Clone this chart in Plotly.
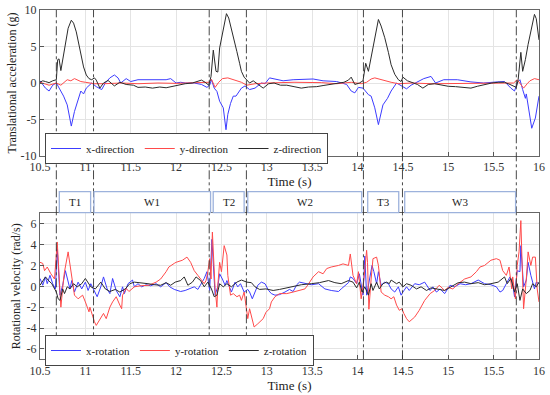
import plotly.graph_objects as go

# ---------------- data ----------------
acc_x_t = [10.50,10.53,10.56,10.60,10.64,10.68,10.72,10.76,10.80,10.83,10.845,10.88,10.93,10.95,10.98,11.01,11.07,11.12,11.18,11.22,11.27,11.32,11.36,11.39,11.45,11.50,11.58,11.66,11.74,11.82,11.89,11.94,12.00,12.05,12.10,12.20,12.28,12.34,12.37,12.39,12.42,12.45,12.48,12.52,12.55,12.57,12.60,12.63,12.66,12.72,12.76,12.81,12.87,12.94,12.98,13.03,13.09,13.18,13.29,13.40,13.51,13.62,13.77,13.88,13.93,13.97,14.01,14.06,14.12,14.15,14.19,14.23,14.26,14.28,14.33,14.37,14.43,14.48,14.54,14.59,14.66,14.73,14.81,14.86,14.95,15.10,15.25,15.39,15.54,15.62,15.69,15.73,15.76,15.79,15.82,15.85,15.86,15.90,15.92,15.96,16.00]
acc_x_v = [0.3,-0.2,-0.7,-1.1,-0.3,0.0,-0.9,-1.8,-3.0,-4.8,-5.9,-3.9,-2.05,-1.1,-1.5,-0.7,0.0,-0.5,-0.9,0.0,0.7,1.1,0.7,0.0,0.6,0.2,0.45,0.45,0.45,0.5,0.45,0.6,0.0,0.1,0.0,0.0,-0.2,-0.6,-0.3,0.45,-0.7,-1.15,-2.5,-3.4,-6.4,-4.3,-2.8,-1.8,-1.8,-0.7,-0.4,-0.9,-0.7,0.0,-0.1,0.7,0.55,0.3,0.45,0.55,0.55,0.3,0.2,-0.2,-1.1,-1.35,-0.6,-0.7,-1.6,-1.8,-3.4,-5.7,-3.9,-3.0,-2.1,-1.1,0.0,-0.4,-0.8,-0.3,0.2,0.6,0.9,0.0,0.45,0.45,0.15,0.0,0.15,0.2,-0.7,-1.1,0.0,0.45,-0.9,-2.1,-1.5,-4.3,-6.2,-4.8,-1.8]

acc_y_t = [10.50,10.55,10.60,10.68,10.73,10.80,10.84,10.88,10.95,11.00,11.10,11.20,11.40,11.58,11.80,12.00,12.20,12.36,12.39,12.43,12.47,12.51,12.57,12.64,12.72,12.78,12.87,13.00,13.30,13.60,13.77,13.93,14.04,14.10,14.15,14.19,14.26,14.37,14.45,14.60,14.81,15.00,15.30,15.60,15.72,15.76,15.79,15.83,15.87,15.90,15.95,16.00]
acc_y_v = [0.1,-0.1,-0.3,0.0,-0.3,0.45,0.3,0.6,0.2,0.1,-0.1,-0.1,0.0,-0.1,0.0,-0.05,0.05,0.1,0.5,-0.6,0.1,0.6,0.7,0.45,0.1,-0.3,-0.1,0.0,0.1,0.05,-0.1,0.1,-0.1,0.1,0.55,0.7,0.45,0.1,-0.1,0.0,-0.1,-0.1,0.0,0.0,0.0,0.45,0.0,-0.7,-0.1,0.3,0.6,0.45]

acc_z_t = [10.50,10.53,10.56,10.60,10.64,10.68,10.695,10.71,10.73,10.77,10.81,10.845,10.87,10.90,10.955,10.98,11.01,11.04,11.07,11.10,11.12,11.16,11.20,11.25,11.32,11.38,11.45,11.53,11.58,11.66,11.74,11.82,11.89,11.96,12.03,12.10,12.18,12.25,12.28,12.32,12.36,12.385,12.40,12.41,12.44,12.46,12.48,12.52,12.555,12.58,12.61,12.64,12.67,12.70,12.72,12.75,12.78,12.81,12.85,12.90,12.96,13.02,13.08,13.15,13.22,13.30,13.38,13.46,13.55,13.62,13.70,13.78,13.85,13.90,13.93,13.97,14.02,14.06,14.09,14.12,14.17,14.20,14.23,14.26,14.30,14.34,14.37,14.41,14.45,14.48,14.50,14.55,14.60,14.66,14.72,14.78,14.85,14.92,15.00,15.08,15.16,15.25,15.32,15.40,15.48,15.55,15.62,15.68,15.75,15.77,15.80,15.82,15.85,15.88,15.92,15.95,15.97,16.00]
acc_z_v = [0.1,0.3,0.2,0.05,0.3,0.45,3.2,3.3,1.7,4.8,7.5,8.6,8.2,7.0,3.9,2.2,1.1,0.6,0.45,0.7,0.4,-0.7,0.0,0.35,-0.4,0.1,-0.2,-0.3,-0.6,-0.55,-0.7,-0.55,-0.65,-0.45,-0.35,-0.1,0.0,0.35,0.4,0.1,-0.3,0.9,4.0,4.5,1.6,1.5,4.8,7.5,9.5,8.9,7.5,5.8,4.3,2.7,1.6,0.8,0.4,0.0,0.3,-0.1,-0.7,-0.1,0.0,-0.3,-0.3,-0.5,-0.7,-0.55,-0.5,-0.35,-0.2,0.0,0.1,0.4,0.8,-0.2,0.0,0.3,2.7,1.6,4.8,7.0,8.7,7.8,6.2,4.2,2.5,1.2,0.45,0.2,0.8,0.3,0.1,-0.2,-0.7,-0.2,-0.1,-0.3,-0.45,-0.5,-0.6,-0.7,-0.45,-0.2,0.0,0.1,0.1,-0.2,-0.6,0.45,4.2,1.6,3.2,5.3,7.6,9.4,8.8,5.9]

gyr_x_t = [10.50,10.53,10.56,10.58,10.61,10.64,10.67,10.69,10.72,10.75,10.78,10.80,10.83,10.85,10.88,10.92,10.96,11.00,11.03,11.06,11.10,11.13,11.17,11.20,11.24,11.27,11.30,11.34,11.38,11.41,11.43,11.47,11.52,11.54,11.58,11.62,11.67,11.72,11.78,11.83,11.89,11.93,11.98,12.05,12.10,12.15,12.20,12.24,12.27,12.31,12.34,12.37,12.395,12.43,12.46,12.48,12.51,12.54,12.56,12.58,12.61,12.65,12.68,12.71,12.75,12.79,12.81,12.84,12.87,12.90,12.94,12.98,13.02,13.05,13.09,13.14,13.20,13.25,13.29,13.33,13.36,13.42,13.49,13.57,13.64,13.71,13.79,13.82,13.86,13.90,13.92,13.95,13.99,14.02,14.06,14.08,14.10,14.13,14.16,14.18,14.21,14.23,14.26,14.30,14.34,14.37,14.41,14.45,14.48,14.50,14.54,14.57,14.63,14.68,14.74,14.80,14.83,14.87,14.91,14.96,15.02,15.07,15.13,15.19,15.25,15.33,15.40,15.47,15.53,15.57,15.60,15.64,15.68,15.71,15.73,15.76,15.79,15.80,15.83,15.86,15.88,15.91,15.95,15.97,16.00]
gyr_x_v = [0.75,0.1,0.9,0.25,1.05,0.25,-0.25,3.6,-0.85,0.1,1.5,0.9,-0.25,0.55,-0.55,0.4,-0.25,0.4,-0.4,0.25,-0.55,-1.0,-0.05,0.9,-0.25,-0.7,0.75,-0.4,-1.0,-0.05,-0.7,0.25,0.6,-0.05,0.25,-0.05,0.15,0.05,0.25,-0.05,0.35,-0.05,-0.3,-0.5,-0.4,-0.25,-0.05,-0.3,0.1,0.75,1.4,-0.4,4.5,-0.85,0.0,1.2,0.7,0.1,0.55,0.1,-0.55,0.4,-0.05,0.25,-0.55,-0.3,-0.55,-1.2,-0.55,0.1,0.4,0.25,-0.4,-0.7,-0.85,-0.8,-0.55,-0.3,-0.5,0.15,0.4,0.25,0.15,0.25,-0.25,-0.4,-0.5,-0.25,0.1,0.35,0.9,0.75,0.25,1.2,-0.85,2.9,-0.85,0.75,2.0,1.4,0.25,1.4,0.1,0.4,0.25,-0.25,-0.55,-0.05,-0.85,-0.55,-0.05,-0.4,0.25,0.15,0.4,-0.4,-0.05,-0.55,-0.25,-0.7,0.1,-0.05,0.25,0.15,0.25,0.6,0.25,0.15,-0.05,-0.55,-0.4,0.25,0.9,0.25,-1.0,1.5,1.4,3.9,-0.05,0.6,2.3,1.05,-0.25,0.4,0.25]

gyr_y_t = [10.50,10.53,10.55,10.58,10.62,10.66,10.69,10.70,10.73,10.76,10.77,10.81,10.85,10.88,10.92,10.97,11.00,11.04,11.05,11.07,11.10,11.12,11.16,11.20,11.23,11.27,11.30,11.34,11.38,11.40,11.41,11.45,11.48,11.54,11.61,11.70,11.78,11.83,11.89,11.92,11.98,12.00,12.07,12.12,12.16,12.20,12.24,12.27,12.31,12.33,12.35,12.37,12.385,12.40,12.43,12.45,12.46,12.48,12.50,12.53,12.56,12.57,12.60,12.63,12.67,12.70,12.72,12.75,12.77,12.79,12.81,12.83,12.86,12.90,12.96,12.99,13.03,13.05,13.09,13.14,13.22,13.29,13.35,13.42,13.45,13.51,13.57,13.62,13.66,13.71,13.79,13.84,13.90,13.92,13.95,13.99,14.01,14.04,14.07,14.10,14.11,14.125,14.15,14.17,14.21,14.23,14.26,14.30,14.34,14.37,14.40,14.43,14.46,14.49,14.51,14.54,14.57,14.63,14.68,14.74,14.80,14.85,14.90,14.96,15.00,15.05,15.11,15.18,15.25,15.31,15.35,15.40,15.47,15.53,15.57,15.60,15.64,15.67,15.70,15.71,15.74,15.76,15.78,15.80,15.81,15.83,15.86,15.88,15.91,15.93,15.96,15.98,16.00]
gyr_y_v = [2.3,2.2,1.5,1.85,1.2,0.7,4.25,2.3,-2.0,0.7,1.4,3.3,0.7,-0.85,-1.2,-0.85,-1.5,-2.45,-2.0,-2.6,-3.4,-3.75,-3.1,-2.6,-3.1,-2.0,-1.5,-1.0,-1.8,-2.15,-0.85,-0.2,-0.5,-0.05,0.05,0.1,0.4,0.7,1.4,1.85,2.2,2.3,2.5,2.8,2.3,1.5,1.05,0.7,0.25,0.55,1.4,2.65,0.7,5.2,-0.25,-2.0,0.1,2.3,1.4,3.9,3.0,1.05,-0.85,-0.7,-1.0,-0.85,-1.35,-0.55,-1.8,-3.1,-2.15,-2.8,-3.9,-3.6,-3.1,-2.5,-2.15,-1.5,-1.0,-0.7,-0.7,-0.55,-0.4,-0.25,0.1,0.9,1.4,1.2,1.7,1.85,2.0,2.15,2.0,3.1,1.05,0.25,1.4,-1.2,0.7,3.45,2.3,-2.2,0.7,2.65,2.8,2.0,-0.55,-0.85,-1.0,-1.2,-1.0,-1.8,-2.3,-2.15,-2.6,-3.1,-3.4,-2.95,-2.3,-1.35,-0.7,-0.4,0.1,-0.4,-0.1,-0.25,0.25,0.7,0.9,1.4,1.85,2.0,2.5,2.65,2.5,1.5,1.05,1.85,-0.25,0.9,-1.2,2.0,3.3,6.3,3.3,-2.15,0.7,3.3,2.0,2.8,2.8,-0.25,-1.5]

gyr_z_t = [10.50,10.56,10.60,10.63,10.68,10.70,10.72,10.75,10.77,10.80,10.83,10.87,10.91,10.96,11.00,11.03,11.06,11.11,11.17,11.22,11.27,11.33,11.38,11.44,11.49,11.54,11.61,11.69,11.76,11.83,11.89,11.94,11.99,12.05,12.09,12.13,12.18,12.22,12.27,12.31,12.35,12.39,12.42,12.45,12.48,12.52,12.56,12.61,12.67,12.72,12.78,12.83,12.87,12.92,12.99,13.07,13.14,13.22,13.29,13.38,13.49,13.58,13.68,13.75,13.82,13.90,13.95,13.99,14.02,14.05,14.08,14.12,14.15,14.17,14.21,14.24,14.28,14.32,14.35,14.37,14.43,14.46,14.50,14.54,14.59,14.65,14.70,14.76,14.81,14.89,14.96,15.03,15.11,15.18,15.25,15.33,15.40,15.47,15.55,15.62,15.65,15.69,15.73,15.76,15.79,15.82,15.86,15.90,15.93,15.97,16.00]
gyr_z_v = [0.1,0.9,0.5,0.25,-0.55,-1.2,-1.35,-0.25,-0.7,-0.05,-0.25,0.25,-0.05,0.25,0.75,0.4,-0.05,-0.25,0.4,-0.25,-0.5,-0.3,-0.55,-0.25,0.25,0.4,0.35,0.25,0.15,0.1,0.35,0.1,0.4,0.55,0.9,0.1,0.4,0.9,0.55,-0.05,0.4,-0.25,-1.0,-0.85,0.25,-0.05,0.25,-0.05,0.4,0.6,0.4,0.35,-0.05,-0.3,-0.25,-0.4,-0.3,-0.15,0.05,0.15,0.25,0.35,0.55,0.35,0.25,0.55,0.4,-0.15,0.4,-0.55,-0.05,-0.85,0.25,-0.4,0.4,-0.25,0.25,0.4,0.25,0.6,0.25,0.4,-0.05,0.25,0.1,-0.25,-0.05,-0.4,-0.15,-0.3,-0.4,-0.05,0.35,0.4,0.25,0.35,0.15,0.25,0.4,0.9,0.25,0.75,-0.55,0.25,-1.35,-0.25,-0.7,-0.4,0.25,-0.05,0.4]

phase_bounds = [10.68, 11.09, 12.365, 12.775, 14.065, 14.495, 15.75]
phase_labels = ["T1", "W1", "T2", "W2", "T3", "W3"]
phase_start = [10.713, 11.095, 12.409, 12.79, 14.112, 14.52]
phase_end = [11.058, 12.38, 12.75, 14.046, 14.454, 15.742]

x_ticks = [10.5, 11, 11.5, 12, 12.5, 13, 13.5, 14, 14.5, 15, 15.5, 16]
x_tick_text = ["10.5", "11", "11.5", "12", "12.5", "13", "13.5", "14", "14.5", "15", "15.5", "16"]
acc_ticks = [-10, -5, 0, 5, 10]
acc_tick_text = ["-10", "-5", "0", "5", "10"]
gyr_ticks = [-6, -4, -2, 0, 2, 4, 6]
gyr_tick_text = ["-6", "-4", "-2", "0", "2", "4", "6"]

# ---------------- styling ----------------
FONT = "Liberation Serif"
BLUE = "#3c3cff"
RED = "#ff4a4a"
BLACK = "#2b2b2b"
W, H = 550, 395
top_dom = [1 - 156 / H, 1 - 10 / H]
bot_dom = [1 - 359.3 / H, 1 - 213.3 / H]
x_dom = [40 / W, 539 / W]

fig = go.Figure()
lw = 1.0
fig.add_trace(go.Scatter(x=acc_x_t, y=acc_x_v, mode="lines", name="x-direction",
                         line=dict(color=BLUE, width=lw), xaxis="x", yaxis="y", legend="legend"))
fig.add_trace(go.Scatter(x=acc_y_t, y=acc_y_v, mode="lines", name="y-direction",
                         line=dict(color=RED, width=lw), xaxis="x", yaxis="y", legend="legend"))
fig.add_trace(go.Scatter(x=acc_z_t, y=acc_z_v, mode="lines", name="z-direction",
                         line=dict(color=BLACK, width=lw), xaxis="x", yaxis="y", legend="legend"))
fig.add_trace(go.Scatter(x=gyr_x_t, y=gyr_x_v, mode="lines", name="x-rotation",
                         line=dict(color=BLUE, width=lw), xaxis="x2", yaxis="y2", legend="legend2"))
fig.add_trace(go.Scatter(x=gyr_y_t, y=gyr_y_v, mode="lines", name="y-rotation",
                         line=dict(color=RED, width=lw), xaxis="x2", yaxis="y2", legend="legend2"))
fig.add_trace(go.Scatter(x=gyr_z_t, y=gyr_z_v, mode="lines", name="z-rotation",
                         line=dict(color=BLACK, width=lw), xaxis="x2", yaxis="y2", legend="legend2"))

axis_common = dict(showline=True, mirror=True, linecolor="#666", linewidth=1,
                   ticks="inside", ticklen=4, tickcolor="#555", automargin=False,
                   showgrid=True, gridcolor="#e4e4e4", gridwidth=1, zeroline=False,
                   tickfont=dict(family=FONT, size=12, color="#333"))

xaxis_common = dict(axis_common, range=[10.5, 16], tickvals=x_ticks, ticktext=x_tick_text,
                    domain=x_dom)

shapes = []
for t in phase_bounds:
    shapes.append(dict(type="line", xref="x", yref="paper", x0=t, x1=t,
                       y0=bot_dom[0], y1=top_dom[1],
                       line=dict(color="#333", width=0.9, dash="dashdot"), layer="above"))
box_y0 = 1 - 212.7 / H
box_y1 = 1 - 191.7 / H
annotations = []
for lab, s, e in zip(phase_labels, phase_start, phase_end):
    shapes.append(dict(type="rect", xref="x", yref="paper", x0=s, x1=e, y0=box_y0, y1=box_y1,
                       line=dict(color="#9db2dc", width=1.3), fillcolor="white", layer="above"))
    annotations.append(dict(x=(s + e) / 2, y=(box_y0 + box_y1) / 2, xref="x", yref="paper",
                            text=lab, showarrow=False,
                            font=dict(family=FONT, size=11, color="#222")))

legend_common = dict(orientation="h", xanchor="left", yanchor="top", bgcolor="white",
                     bordercolor="#444", borderwidth=1, itemwidth=30,
                     font=dict(family=FONT, size=11, color="#222"),
                     tracegroupgap=0, itemclick=False)

fig.update_layout(
    width=W, height=H, margin=dict(l=0, r=0, t=0, b=0, autoexpand=False),
    paper_bgcolor="white", plot_bgcolor="white",
    font=dict(family=FONT, size=12, color="#222"),
    xaxis=dict(xaxis_common, anchor="y",
               title=dict(text="Time (s)", standoff=2, font=dict(family=FONT, size=13, color="#222"))),
    yaxis=dict(axis_common, domain=top_dom, range=[-10, 10], tickvals=acc_ticks, ticktext=acc_tick_text,
               anchor="x",
               title=dict(text="Translational acceleration (g)", standoff=1,
                          font=dict(family=FONT, size=12, color="#222"))),
    xaxis2=dict(xaxis_common, anchor="y2", matches="x",
                title=dict(text="Time (s)", standoff=2, font=dict(family=FONT, size=13, color="#222"))),
    yaxis2=dict(axis_common, domain=bot_dom, range=[-7, 7], tickvals=gyr_ticks, ticktext=gyr_tick_text,
                anchor="x2",
                title=dict(text="Rotational velocity (rad/s)", standoff=3,
                           font=dict(family=FONT, size=12, color="#222"))),
    legend=dict(legend_common, x=45 / W, y=1 - 133 / H),
    legend2=dict(legend_common, x=45 / W, y=1 - 335 / H),
    shapes=shapes, annotations=annotations, showlegend=True,
)

fig.write_html("out.html", config={"displayModeBar": False},
               post_script="document.body.style.margin='0';")
